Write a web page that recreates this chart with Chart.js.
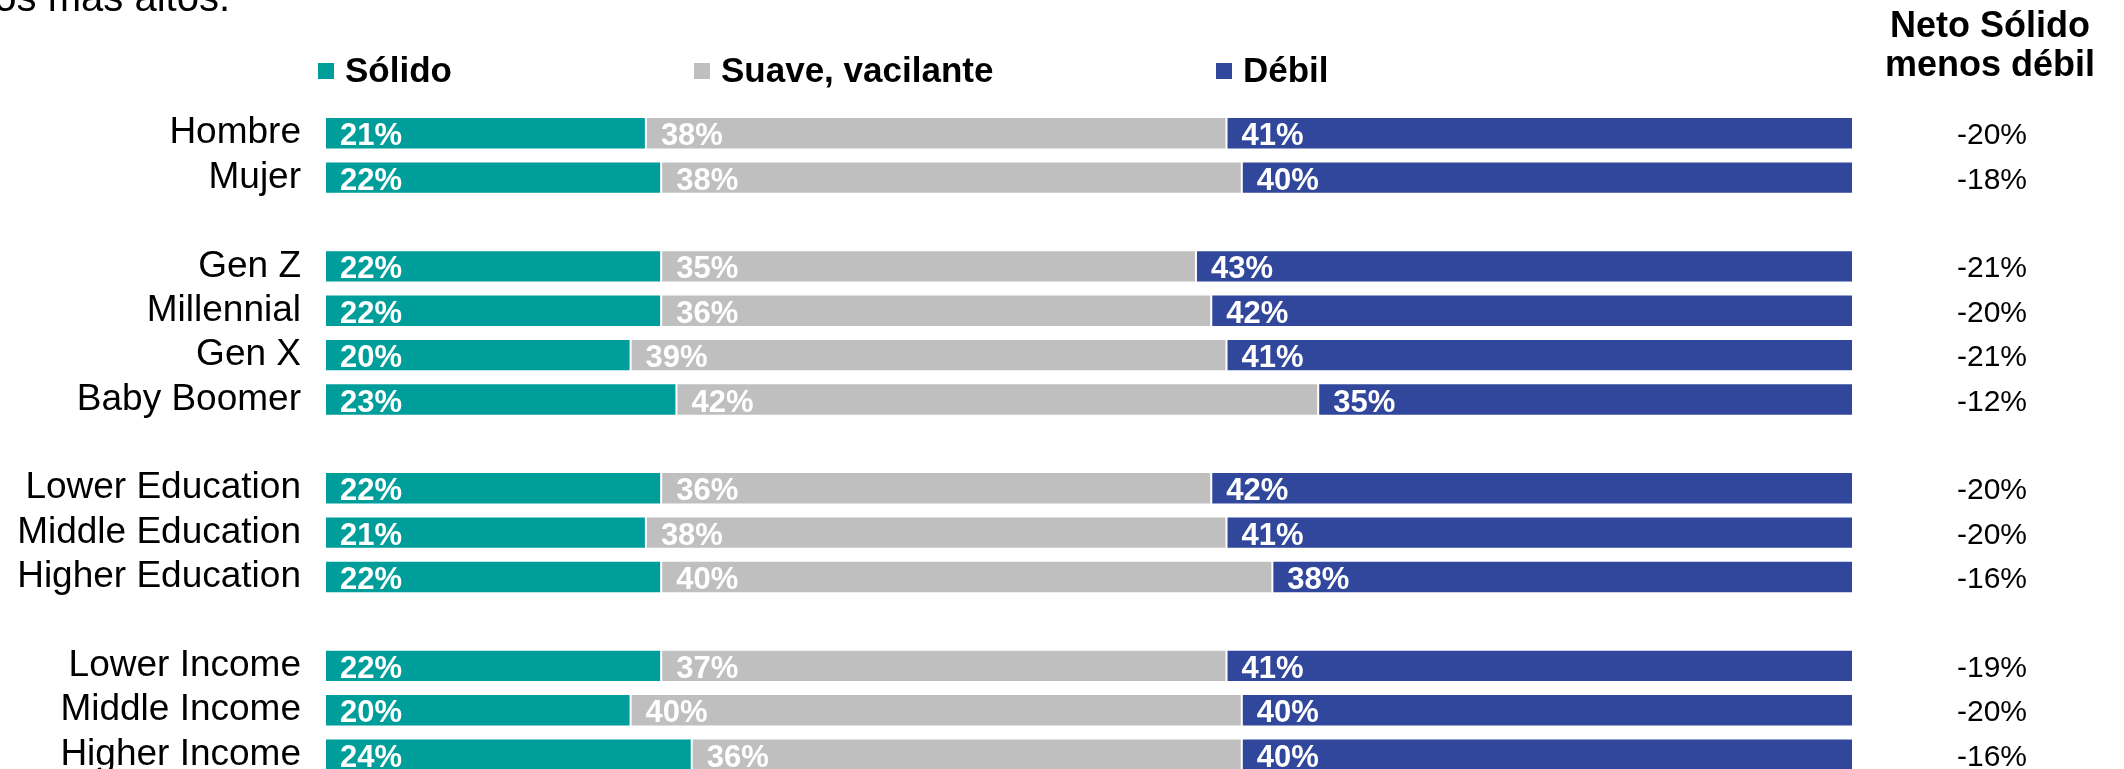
<!DOCTYPE html>
<html>
<head>
<meta charset="utf-8">
<title>Neto Sólido menos débil</title>
<script src="https://cdn.jsdelivr.net/npm/chart.js@4/dist/chart.umd.min.js"></script>
<style>
  html, body { margin: 0; padding: 0; background: #fff; overflow: hidden; }
  canvas { display: block; }
</style>
</head>
<body>
<canvas id="chart" width="2124" height="823"></canvas>
<script>
// Data (blank entries are the gaps between groups)
const categories = ['Hombre', 'Mujer', '', 'Gen Z', 'Millennial', 'Gen X', 'Baby Boomer', '',
    'Lower Education', 'Middle Education', 'Higher Education', '',
    'Lower Income', 'Middle Income', 'Higher Income'];
const solido = [21, 22, null, 22, 22, 20, 23, null, 22, 21, 22, null, 22, 20, 24];
const suave = [38, 38, null, 35, 36, 39, 42, null, 36, 38, 40, null, 37, 40, 36];
const debil = [41, 40, null, 43, 42, 41, 35, null, 42, 41, 38, null, 41, 40, 40];
const netoSolidoMenosDebil = [-20, -18, null, -21, -20, -21, -12, null, -20, -20, -16, null, -19, -20, -16];
const seriesNames = ['Sólido', 'Suave, vacilante', 'Débil'];
const netoHeader = ['Neto Sólido', 'menos débil'];
const subtitleTail = 'los más altos.';

const colors = ['#009E9A', '#BFBFBF', '#30479B'];
const FONT = "'Liberation Sans', Arial, Helvetica, sans-serif";

// Draws the value labels, the custom legend, the right column and the cut-off subtitle
const annotations = {
    id: 'annotations',
    afterDatasetsDraw(chart) {
        const ctx = chart.ctx;
        const yScale = chart.scales.y;
        ctx.save();

        // values inside the bars
        ctx.font = 'bold 31px ' + FONT;
        ctx.fillStyle = '#ffffff';
        ctx.textAlign = 'left';
        ctx.textBaseline = 'alphabetic';
        chart.data.datasets.forEach(function(ds, di) {
            const meta = chart.getDatasetMeta(di);
            meta.data.forEach(function(bar, i) {
                const v = ds.data[i];
                if (v === null) return;
                const left = Math.min(bar.base, bar.x);
                ctx.fillText(v + '%', left + 15, bar.y + 12);
            });
        });

        // right column: net values
        ctx.fillStyle = '#000000';
        ctx.textAlign = 'center';
        ctx.font = 'bold 36px ' + FONT;
        ctx.fillText(netoHeader[0], 1990, 37);
        ctx.fillText(netoHeader[1], 1990, 76);
        ctx.font = '30px ' + FONT;
        netoSolidoMenosDebil.forEach(function(v, i) {
            if (v === null) return;
            ctx.fillText(v + '%', 1992, yScale.getPixelForValue(i) + 11);
        });

        // legend
        const legendX = [318, 694, 1216];
        ctx.textAlign = 'left';
        ctx.font = 'bold 35px ' + FONT;
        seriesNames.forEach(function(name, i) {
            ctx.fillStyle = colors[i];
            ctx.fillRect(legendX[i], 63, 16, 16);
            ctx.fillStyle = '#000000';
            ctx.fillText(name, legendX[i] + 27, 82);
        });

        // subtitle cut by the top/left edge
        ctx.font = '40px ' + FONT;
        ctx.textAlign = 'right';
        ctx.fillText(subtitleTail, 230, 11);

        ctx.restore();
    }
};

function makeSet(label, data, color) {
    return {
        label: label,
        data: data,
        backgroundColor: color,
        borderColor: '#ffffff',
        borderWidth: 1,
        borderSkipped: false,
        barPercentage: 0.73,
        categoryPercentage: 1
    };
}

new Chart(document.getElementById('chart'), {
    type: 'bar',
    data: {
        labels: categories,
        datasets: [
            makeSet(seriesNames[0], solido, colors[0]),
            makeSet(seriesNames[1], suave, colors[1]),
            makeSet(seriesNames[2], debil, colors[2])
        ]
    },
    options: {
        indexAxis: 'y',
        responsive: false,
        animation: false,
        layout: { padding: { top: 111, right: 271, bottom: 10, left: 0 } },
        scales: {
            x: { stacked: true, min: 0, max: 100, display: false },
            y: {
                stacked: true,
                grid: { display: false, drawTicks: false },
                border: { display: false },
                ticks: {
                    autoSkip: false,
                    padding: 24,
                    color: '#000000',
                    font: { family: FONT, size: 37 }
                },
                afterFit: function(scale) { scale.width = 325; }
            }
        },
        plugins: {
            legend: { display: false },
            tooltip: { enabled: false }
        }
    },
    plugins: [annotations]
});
</script>
</body>
</html>
